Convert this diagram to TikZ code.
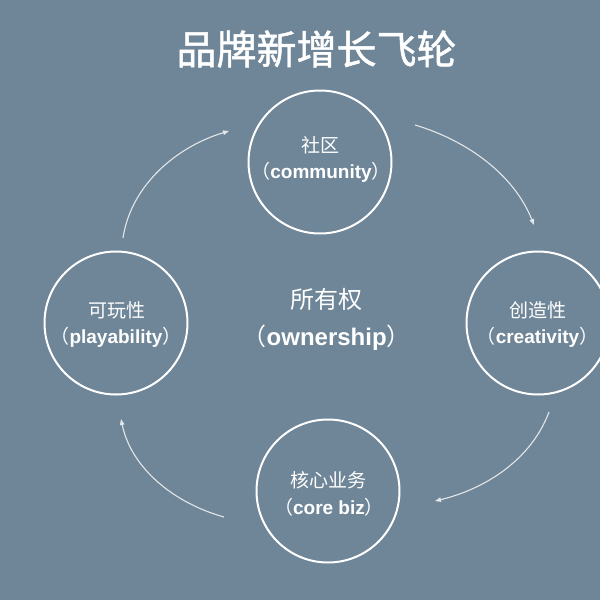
\documentclass[tikz,border=0pt]{standalone}
\usepackage{fontspec}
\setmainfont{Noto Sans CJK SC}
\newfontfamily\cjktitle{Noto Sans CJK SC}[FakeBold=1.2]
\newfontfamily\latinfont{Liberation Sans}
\usetikzlibrary{arrows.meta}
\definecolor{bgcol}{RGB}{111,134,152}
\definecolor{arrcol}{RGB}{226,230,233}
\newcommand{\latpar}[1]{（{\latinfont\bfseries #1}）}
\begin{document}
\begin{tikzpicture}[x=1pt,y=-1pt,
  ring/.style={circle,draw=white,line width=2pt,minimum size=143pt,inner sep=0pt},
  smalltxt/.style={text=white,inner sep=0pt,font=\fontsize{19}{22}\selectfont},
  midtxt/.style={text=white,inner sep=0pt,font=\fontsize{24}{28}\selectfont},
  titletxt/.style={text=white,inner sep=0pt,font=\cjktitle\fontsize{40}{46}\selectfont},
  flow/.style={draw=arrcol,line width=1.1pt,-{Triangle[length=6pt,width=4.5pt]}}]
\useasboundingbox (0,0) rectangle (600,600);
\clip (0,0) rectangle (600,600);
\fill[bgcol] (0,0) rectangle (600,600);

\node[titletxt] (title) at (316.5,49) {品牌新增长飞轮};

\node[ring] (top) at (320,162) {};
\node[ring] (left) at (116,323) {};
\node[ring] (right) at (538,323) {};
\node[ring] (bottom) at (328,491) {};

\node[smalltxt] (topa) at (320,145) {社区};
\node[smalltxt] (topb) at (321,172) {\latpar{community}};
\node[smalltxt] (lefta) at (117,310) {可玩性};
\node[smalltxt] (leftb) at (116,337) {\latpar{playability}};
\node[smalltxt] (righta) at (537.5,310) {创造性};
\node[smalltxt] (rightb) at (537.5,337) {\latpar{creativity}};
\node[smalltxt] (bota) at (328,480) {核心业务};
\node[smalltxt] (botb) at (329,507) {\latpar{core biz}};

\node[midtxt] (cena) at (326.7,299) {所有权};
\node[midtxt] (cenb) at (326.7,338) {\latpar{ownership}};

\coordinate (a1s) at (123,238); \coordinate (a1e) at (229,131);
\coordinate (a2s) at (415,125); \coordinate (a2e) at (534,225);
\coordinate (a3s) at (549,412); \coordinate (a3e) at (435,501);
\coordinate (a4s) at (224,517); \coordinate (a4e) at (121,419);

\draw[flow] (a1s) .. controls (131,185) and (177,146.5) .. (a1e);
\draw[flow] (a2s) .. controls (467.2,140.6) and (513.8,174.4) .. (a2e);
\draw[flow] (a3s) .. controls (531.1,460) and (484.8,489.1) .. (a3e);
\draw[flow] (a4s) .. controls (174.8,503.3) and (131.5,469) .. (a4e);
\end{tikzpicture}
\end{document}
